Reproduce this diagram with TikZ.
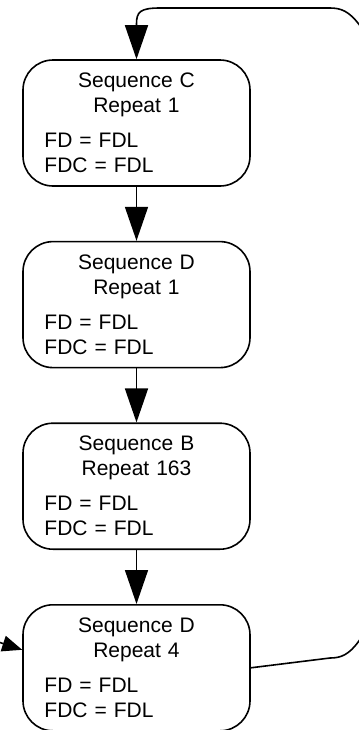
\documentclass[tikz,border=0pt]{standalone}
\usepackage{fontspec}
\setmainfont{Liberation Sans}
\usetikzlibrary{arrows.meta,positioning}

\newcommand{\seqlabel}[2]{{\centering Sequence #1\\ Repeat #2\par}\vspace{5pt}FD = FDL\\ FDC = FDL\par\vspace{4pt}}

\begin{document}
\begin{tikzpicture}[
  x=0.5pt, y=-0.5pt,
  node distance=27pt,
  seqbox/.style={draw, line width=0.8pt, rounded corners=15pt,
                 minimum width=113.5pt, minimum height=63pt,
                 text width=92pt, inner xsep=10.5pt, align=left,
                 font=\fontsize{10.5}{12.5}\selectfont},
  arr/.style ={-{Triangle[length=17pt,width=11.5pt]}, line width=0.8pt},
  inarr/.style={-{Triangle[length=10pt,width=8pt]}, line width=0.8pt}
]
\clip (0,0) rectangle (359,730);
\useasboundingbox (0,0) rectangle (359,730);
\node[seqbox] (seqC)  at (136.5,123) {\seqlabel{C}{1}};
\node[seqbox, below=of seqC]  (seqD1) {\seqlabel{D}{1}};
\node[seqbox, below=of seqD1] (seqB)  {\seqlabel{B}{163}};
\node[seqbox, below=of seqB]  (seqD4) {\seqlabel{D}{4}};
\coordinate (entry) at (-20,636);
\draw[arr] (seqC)  -- (seqD1);
\draw[arr] (seqD1) -- (seqB);
\draw[arr] (seqB)  -- (seqD4);
% loop back, running off the right edge
\draw[arr] (seqD4.east) -- (330,658)
  .. controls (352,658) and (362,645) .. (400,560) -- (400,100)
  .. controls (362,21) and (352,8) .. (330,8) -- (160,8)
  .. controls (140,8) and (136.5,12) .. (136.5,24) -- (seqC.north);
\draw[inarr] (entry) -- ([yshift=9pt]seqD4.west);
\end{tikzpicture}
\end{document}
